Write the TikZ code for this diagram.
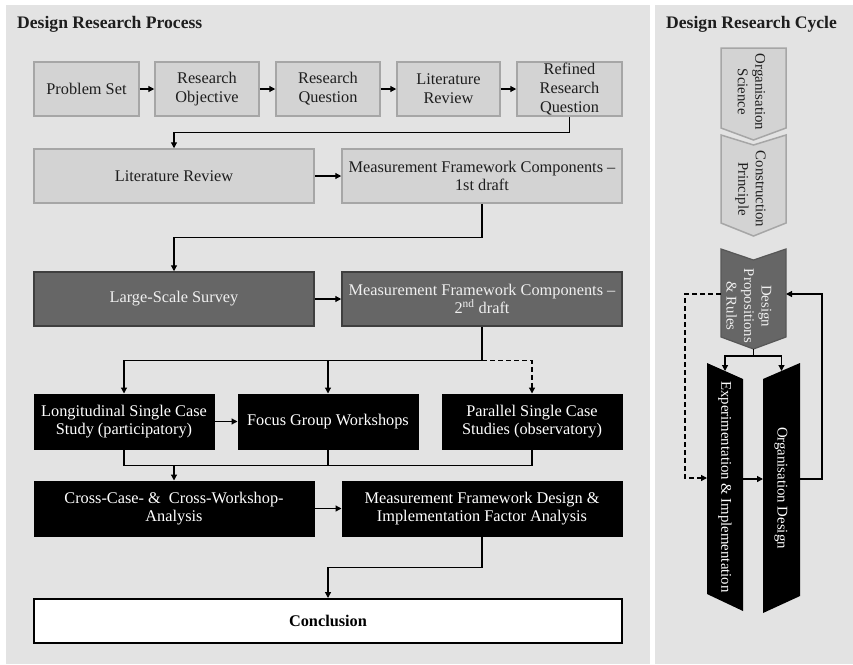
\documentclass[tikz,border=0pt]{standalone}
\usepackage{fontspec}
\setmainfont{Liberation Serif}
\usetikzlibrary{arrows.meta,calc}
\definecolor{bg}{HTML}{E3E3E3}
\definecolor{lfill}{HTML}{D3D3D3}
\definecolor{lborder}{HTML}{A6A6A6}
\definecolor{dfill}{HTML}{666666}
\definecolor{dborder}{HTML}{3F3F3F}
\definecolor{ltext}{HTML}{1E1E1E}
\definecolor{dtext}{HTML}{F0F0F0}
\begin{document}
\begin{tikzpicture}[x=1pt,y=-1pt,
  every node/.style={font=\fontsize{16.3}{18.7}\selectfont, align=center, inner sep=1pt},
  lightbox/.style={draw=lborder, fill=lfill, line width=1.5pt, text=ltext, minimum height=54},
  darkbox/.style={draw=dborder, fill=dfill, line width=1.5pt, text=dtext, minimum height=54},
  blackbox/.style={draw=black, fill=black, line width=1pt, text=white, minimum height=55},
  endbox/.style={draw=black, fill=white, line width=2pt, text=black, minimum height=44, font=\bfseries\fontsize{16.3}{18.7}\selectfont},
  conn/.style={line width=1.2pt, draw=black},
  arr/.style={conn, -{Triangle[length=6pt,width=6pt]}},
  dsh/.style={dash pattern=on 5pt off 3pt},
  rot/.style={rotate=-90, font=\fontsize{14.8}{17.5}\selectfont, inner sep=0pt},
  inv/.style={inner sep=0pt, outer sep=0pt},
  title/.style={anchor=base west, font=\bfseries\fontsize{17.6}{20}\selectfont, text=ltext},
  lchev/.style={draw=lborder, fill=lfill, line width=1.5pt},
  dchev/.style={draw=dfill!85!black, fill=dfill, line width=1.2pt},
]
\useasboundingbox (0,0) rectangle (853,664);
\fill[white] (0,0) rectangle (853,664);
\fill[bg] (6,5) rectangle (650,664);
\fill[bg] (655,5) rectangle (853,664);

\node[title] (t1) at (16,28) {Design Research Process};
\node[title] (t2) at (665,28) {Design Research Cycle};

% row 1
\node[lightbox, minimum width=105] (b1) at (86.5,89) {Problem Set};
\node[lightbox, minimum width=104] (b2) at (207,89) {Research\\Objective};
\node[lightbox, minimum width=104] (b3) at (328,89) {Research\\Question};
\node[lightbox, minimum width=103] (b4) at (448.5,89) {Literature\\Review};
\node[lightbox, minimum width=105, inner sep=0pt] (b5) at (569.5,89) {Refined\\Research\\Question};
\draw[arr] (b1) -- (b2);
\draw[arr] (b2) -- (b3);
\draw[arr] (b3) -- (b4);
\draw[arr] (b4) -- (b5);

% row 2
\node[lightbox, minimum width=280] (lr) at (174,176) {Literature Review};
\node[lightbox, minimum width=280] (m1) at (482,176) {Measurement Framework Components –\\1st draft};
\draw[arr] (b5.south) -- ++(0,16) -| (lr.north);
\draw[arr] (lr) -- (m1);

% row 3
\node[darkbox, minimum width=280] (sv) at (174,299) {Large-Scale Survey};
\node[darkbox, minimum width=280] (m2) at (482,299) {Measurement Framework Components –\\2\textsuperscript{nd} draft};
\draw[arr] (m1.south) -- ++(0,34) -| (sv.north);
\draw[arr] (sv) -- (m2);

% row 4
\node[blackbox, minimum width=180] (lg) at (124,421.5) {Longitudinal Single Case\\Study (participatory)};
\node[blackbox, minimum width=180] (fg) at (328,421.5) {Focus Group Workshops};
\node[blackbox, minimum width=180] (pc) at (532,421.5) {Parallel Single Case\\Studies (observatory)};
\draw[conn] (m2.south) -- ++(0,34) coordinate (s2);
\draw[arr] (s2) -| (lg.north);
\draw[arr] (fg.north |- s2) -- (fg.north);
\draw[arr, dsh] (s2) -| (pc.north);
\draw[arr] (lg) -- (fg);

% row 5
\node[blackbox, minimum width=280] (cc) at (174,508.5) {Cross-Case- \&\ \ Cross-Workshop-\\Analysis};
\node[blackbox, minimum width=280] (fd) at (482,508.5) {Measurement Framework Design \&\\Implementation Factor Analysis};
\draw[conn] (lg.south) -- ++(0,16) coordinate (s3) -| (pc.south);
\draw[conn] (fg.south) -- (fg.south |- s3);
\draw[arr] (cc.north |- s3) -- (cc.north);
\draw[arr] (cc) -- (fd);

% conclusion
\node[endbox, minimum width=588] (cn) at (328,621) {Conclusion};
\draw[arr] (fd.south) -- ++(0,31) -| (cn.north);

% right panel: chevrons
\draw[lchev] (721,48) -- (786,48) -- (786,128) -- (753.5,140) -- (721,128) -- cycle;
\draw[lchev] (721,135) -- (753.5,145) -- (786,135) -- (786,223) -- (753.5,236) -- (721,223) -- cycle;
\draw[dchev] (721,249) -- (753.5,260) -- (786,249) -- (786,337) -- (753.5,349) -- (721,337) -- cycle;
\fill[black] (707,363) -- (743,379) -- (743,611) -- (707,594) -- cycle;
\fill[black] (763,379) -- (800,363) -- (800,596) -- (763,613) -- cycle;

\node[rot, text=ltext] (c1) at (751.5,92) {Organisation\\Science};
\node[rot, text=ltext] (c2) at (750.5,189) {Construction\\Principle};
\node[inv, minimum width=65, minimum height=88] (c3) at (753.5,293) {};
\node[rot, text=dtext] (c3t) at (749,306) {Design\\Propositions\\\& Rules};
\node[inv, minimum width=36, minimum height=232] (exp) at (725,487) {};
\node[rot, text=white] (expt) at (725,487) {Experimentation \& Implementation};
\node[inv, minimum width=37, minimum height=233] (org) at (781.5,487.5) {};
\node[rot, text=white] (orgt) at (781,488) {Organisation Design};

\coordinate (fb) at (0,294);
\draw[conn] ($(c3.south)+(0,12)$) -- ++(0,7) coordinate (sp);
\draw[arr] (sp) -| (exp.north);
\draw[arr] (sp) -| (org.north);
\draw[arr, dsh] (c3.west |- fb) -- ++(-36,0) |- ($(exp.west)+(0,-9)$);
\draw[arr] ($(exp.east)+(0,-8)$) -- ($(org.west)+(0,-8.5)$);
\draw[arr] ($(org.east)+(0,-8.5)$) -- ++(22,0) |- (c3.east |- fb);
\end{tikzpicture}
\end{document}
